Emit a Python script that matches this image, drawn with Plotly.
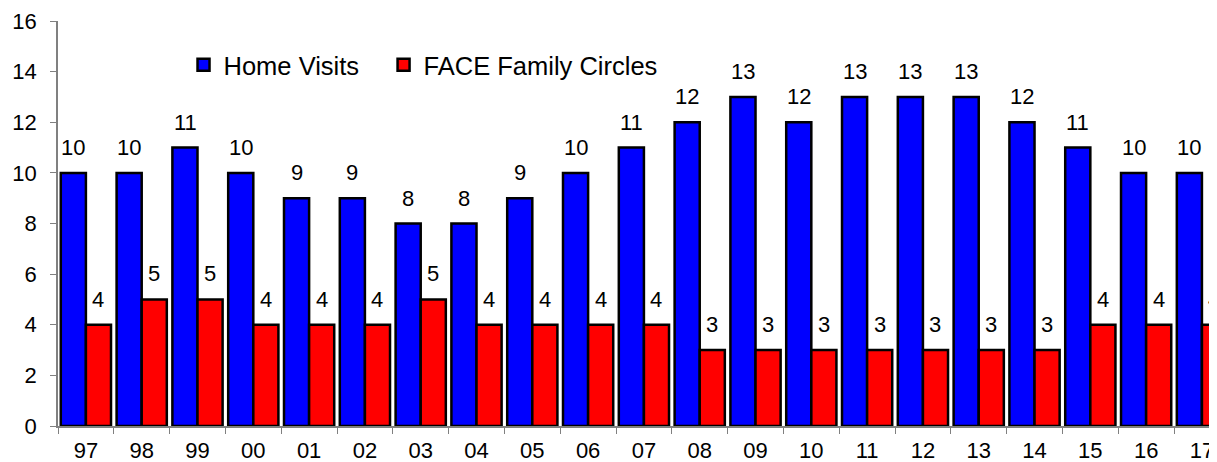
import plotly.graph_objects as go

years = ["97", "98", "99", "00", "01", "02", "03", "04", "05", "06", "07",
         "08", "09", "10", "11", "12", "13", "14", "15", "16", "17"]
home_visits = [10, 10, 11, 10, 9, 9, 8, 8, 9, 10, 11, 12, 13, 12, 13, 13, 13, 12, 11, 10, 10]
face_circles = [4, 5, 5, 4, 4, 4, 5, 4, 4, 4, 4, 3, 3, 3, 3, 3, 3, 3, 4, 4, 4]

FONT = "Liberation Sans, Arial, sans-serif"

fig = go.Figure()
fig.add_trace(go.Bar(x=years, y=home_visits, name="Home Visits", legend="legend",
                     marker=dict(color="#0000FF", line=dict(color="black", width=2.5))))
fig.add_trace(go.Bar(x=years, y=face_circles, name="FACE Family Circles", legend="legend2",
                     marker=dict(color="#FF0000", line=dict(color="black", width=2.5))))

ann = []
for series, shift in ((home_visits, -12.5), (face_circles, 12.5)):
    for i, v in enumerate(series):
        ann.append(dict(x=i, y=v, text=str(v), showarrow=False, xanchor="center",
                        yanchor="bottom", xshift=shift, yshift=11,
                        font=dict(family=FONT, size=22, color="black")))

legend_common = dict(orientation="h", yanchor="middle", xanchor="left",
                     font=dict(family=FONT, size=25.5, color="black"),
                     bgcolor="rgba(0,0,0,0)")

# the page body adds an 8px margin at left/top; the figure is sized to fit the window
fig.update_layout(
    width=1209, height=454,
    margin=dict(l=50, r=0, t=13, b=36),
    paper_bgcolor="white", plot_bgcolor="white",
    barmode="group", bargap=0.1, bargroupgap=0,
    font=dict(family=FONT, size=22, color="black"),
    showlegend=True,
    legend=dict(x=0.1083, y=0.891, **legend_common),
    legend2=dict(x=0.2809, y=0.891, **legend_common),
    annotations=ann,
)
fig.update_xaxes(type="category", range=[-0.5, 20.27], showline=True, linecolor="#808080",
                 linewidth=1.5, ticks="outside", tickson="boundaries", ticklen=6,
                 tickcolor="#808080", showgrid=False, automargin=False, ticklabelstandoff=4,
                 tickfont=dict(family=FONT, size=22, color="black"))
fig.update_yaxes(range=[0, 16], dtick=2, showline=True, linecolor="#808080", linewidth=1.5,
                 ticks="outside", ticklen=6, tickcolor="#808080", showgrid=False,
                 zeroline=False, ticklabelstandoff=9, automargin=False,
                 tickfont=dict(family=FONT, size=22, color="black"))

fig.write_html("out.html")
